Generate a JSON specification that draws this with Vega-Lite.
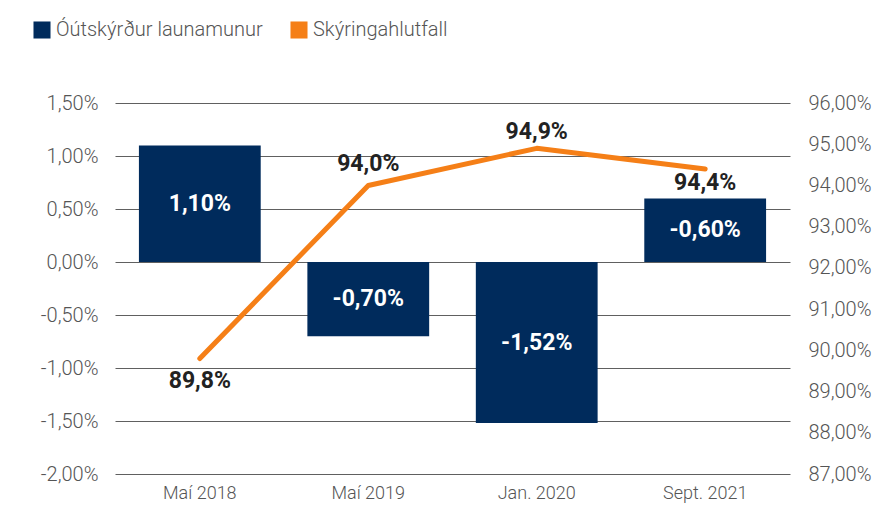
{
  "$schema": "https://vega.github.io/schema/vega-lite/v6.json",
  "width": 675,
  "height": 371,
  "autosize": {"type": "none"},
  "padding": {"left": 115, "top": 103, "right": 100, "bottom": 44},
  "background": "white",
  "config": {
    "view": {"stroke": null},
    "locale": {"number": {"decimal": ",", "thousands": ".", "grouping": [3], "currency": ["", " kr."], "minus": "-"}},
    "font": "Roboto",
    "axis": {"labelFont": "Roboto", "labelFontWeight": 300, "labelFontSize": 20, "labelColor": "#555555", "domain": false, "ticks": false, "title": null}
  },
  "data": {"values": [
    {"cat": "Maí 2018", "gap": 0.011, "gapLabel": "1,10%", "ratio": 0.898, "ratioLabel": "89,8%"},
    {"cat": "Maí 2019", "gap": -0.007, "gapLabel": "-0,70%", "ratio": 0.940, "ratioLabel": "94,0%"},
    {"cat": "Jan. 2020", "gap": -0.0152, "gapLabel": "-1,52%", "ratio": 0.949, "ratioLabel": "94,9%"},
    {"cat": "Sept. 2021", "gap": 0.006, "gapLabel": "-0,60%", "ratio": 0.944, "ratioLabel": "94,4%"}
  ]},
  "encoding": {
    "x": {"field": "cat", "type": "nominal", "sort": null,
      "scale": {"paddingInner": 0.277, "paddingOuter": 0.142},
      "axis": {"labelAngle": 0, "labelPadding": 10, "grid": false, "labelFontSize": 18}}
  },
  "layer": [
    {
      "mark": {"type": "bar", "color": "#002b5c"},
      "encoding": {
        "y": {"field": "gap", "type": "quantitative",
          "scale": {"domain": [-0.02, 0.015], "nice": false, "zero": false},
          "axis": {"values": [-0.02, -0.015, -0.01, -0.005, 0, 0.005, 0.01, 0.015], "format": ".2%", "labelPadding": 17, "grid": true, "gridColor": "#606060", "gridWidth": 1, "orient": "left"}},
        "color": {"datum": "Óútskýrður launamunur", "type": "nominal",
          "scale": {"domain": ["Óútskýrður launamunur", "Skýringahlutfall"], "range": ["#002b5c", "#f57f17"]},
          "legend": {"title": null, "orient": "none", "legendX": -83, "legendY": -83, "direction": "horizontal",
            "symbolType": "square", "symbolSize": 290, "symbolStrokeWidth": 0, "labelFont": "Roboto", "labelFontWeight": 300,
            "labelFontSize": 20, "labelColor": "#555555", "labelOffset": 4, "labelLimit": 0, "columnPadding": 26,
            "encode": {"symbols": {"update": {"fill": {"signal": "datum.value == 'Skýringahlutfall' ? '#f7923a' : '#002b5c'"}, "stroke": {"value": "transparent"}, "opacity": {"value": 1}}}}}}
      }
    },
    {
      "mark": {"type": "text", "color": "white", "font": "Roboto", "fontWeight": "bold", "fontSize": 23, "baseline": "middle"},
      "encoding": {
        "y": {"field": "gap", "type": "quantitative",
          "scale": {"domain": [-0.04, 0.03], "nice": false, "zero": false}, "axis": null},
        "text": {"field": "gapLabel"}
      }
    },
    {
      "mark": {"type": "line", "color": "#f57f17", "strokeWidth": 5, "strokeCap": "round", "strokeJoin": "round"},
      "encoding": {
        "y": {"field": "ratio", "type": "quantitative",
          "scale": {"domain": [0.87, 0.96], "nice": false, "zero": false},
          "axis": {"orient": "right", "values": [0.87, 0.88, 0.89, 0.90, 0.91, 0.92, 0.93, 0.94, 0.95, 0.96], "format": ".2%", "labelPadding": 18, "grid": false}},
        "color": {"datum": "Skýringahlutfall", "type": "nominal"}
      }
    },
    {
      "transform": [{"filter": {"field": "cat", "equal": "Maí 2018"}}],
      "mark": {"type": "text", "color": "#222222", "font": "Roboto", "fontWeight": "bold", "fontSize": 23, "baseline": "middle", "dy": 22},
      "encoding": {
        "y": {"field": "ratio", "type": "quantitative", "scale": {"domain": [0.87, 0.96], "nice": false, "zero": false}, "axis": null},
        "text": {"field": "ratioLabel"}
      }
    },
    {
      "transform": [{"filter": {"field": "cat", "equal": "Maí 2019"}}],
      "mark": {"type": "text", "color": "#222222", "font": "Roboto", "fontWeight": "bold", "fontSize": 23, "baseline": "middle", "dy": -21},
      "encoding": {
        "y": {"field": "ratio", "type": "quantitative", "scale": {"domain": [0.87, 0.96], "nice": false, "zero": false}, "axis": null},
        "text": {"field": "ratioLabel"}
      }
    },
    {
      "transform": [{"filter": {"field": "cat", "equal": "Jan. 2020"}}],
      "mark": {"type": "text", "color": "#222222", "font": "Roboto", "fontWeight": "bold", "fontSize": 23, "baseline": "middle", "dy": -16},
      "encoding": {
        "y": {"field": "ratio", "type": "quantitative", "scale": {"domain": [0.87, 0.96], "nice": false, "zero": false}, "axis": null},
        "text": {"field": "ratioLabel"}
      }
    },
    {
      "transform": [{"filter": {"field": "cat", "equal": "Sept. 2021"}}],
      "mark": {"type": "text", "color": "#222222", "font": "Roboto", "fontWeight": "bold", "fontSize": 23, "baseline": "middle", "dy": 14},
      "encoding": {
        "y": {"field": "ratio", "type": "quantitative", "scale": {"domain": [0.87, 0.96], "nice": false, "zero": false}, "axis": null},
        "text": {"field": "ratioLabel"}
      }
    }
  ],
  "resolve": {"scale": {"y": "independent", "color": "shared"}}
}
